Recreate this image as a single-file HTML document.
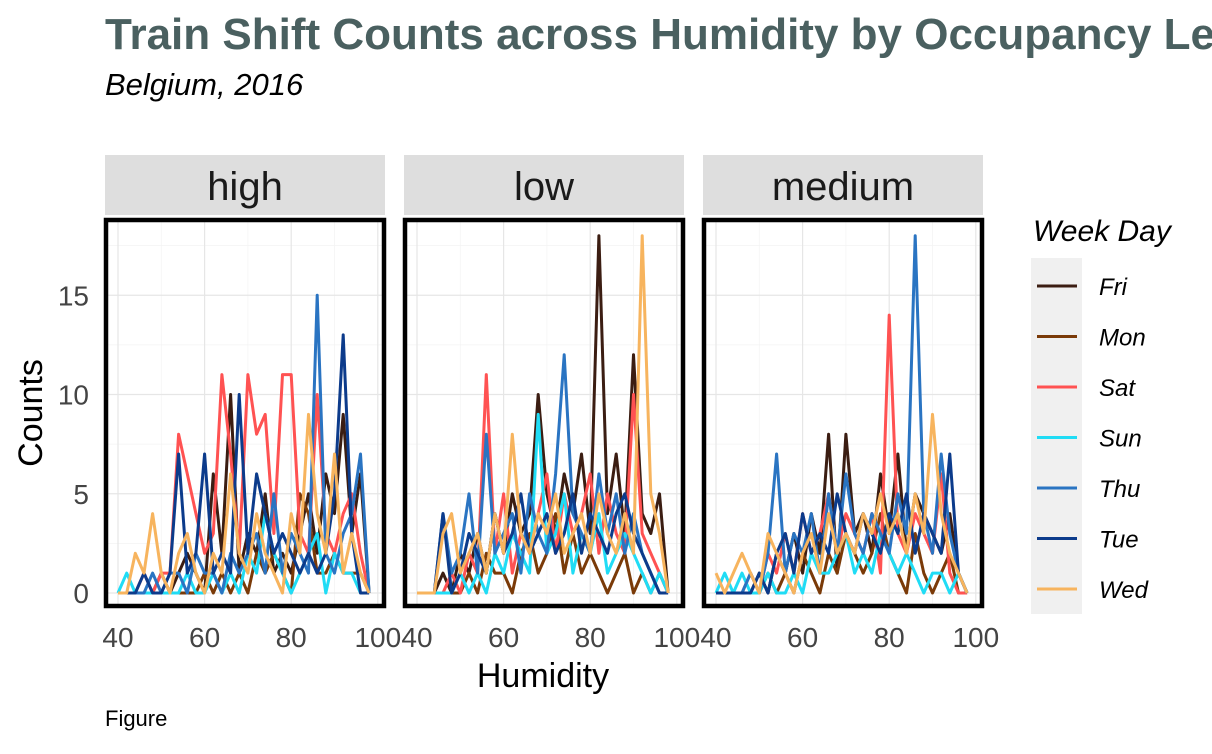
<!DOCTYPE html>
<html><head><meta charset="utf-8"><style>
body{margin:0;background:#fff;overflow:hidden;}
svg text{font-family:"Liberation Sans",Arial,sans-serif;}
</style></head><body>
<svg id="chart" width="1212" height="749" xmlns="http://www.w3.org/2000/svg">
<text x="105" y="49" font-size="44" font-weight="bold" fill="#4a6060">Train Shift Counts across Humidity by Occupancy Level</text>
<text x="105" y="95" font-size="31" font-style="italic" fill="#000">Belgium, 2016</text>
<text x="543" y="687" font-size="34" text-anchor="middle" fill="#000">Humidity</text>
<text transform="translate(42,413) rotate(-90)" font-size="34" text-anchor="middle" fill="#000">Counts</text>
<text x="105" y="726" font-size="22" fill="#000">Figure</text>
<g id="panels"></g>
<g id="legend"></g>
</svg>
<script>
const humidity=[40,42,44,46,48,50,52,54,56,58,60,62,64,66,68,70,72,74,76,78,80,82,84,86,88,90,92,94,96,98];
const panels=["high","low","medium"];
const days=["Fri","Mon","Sat","Sun","Thu","Tue","Wed"];
const yTicks=[0,5,10,15];
const xTicks=[40,60,80,100];
const highFri=[0,0,0,0,0,1,0,1,2,1,0,6,2,10,1,3,2,5,1,2,1,3,5,2,6,4,9,3,6,0];
const highMon=[0,0,0,0,0,0,0,0,0,0,1,0,1,0,1,0,2,1,2,1,0,5,4,1,1,2,1,1,1,0];
const highSat=[0,0,0,1,0,1,1,8,6,4,2,3,11,7,2,11,8,9,3,11,11,3,2,10,3,2,4,5,2,0];
const highSun=[0,1,0,0,0,0,0,0,1,0,0,1,0,1,0,2,1,4,2,1,0,1,2,3,0,2,1,1,0,0];
const highThu=[0,0,0,0,1,0,1,1,0,2,1,1,0,2,1,2,3,1,5,1,3,2,1,15,2,1,3,4,7,0];
const highTue=[0,0,0,1,0,0,1,7,1,2,7,1,2,1,10,2,6,4,2,3,2,1,2,1,2,5,13,3,0,0];
const highWed=[0,0,2,1,4,1,0,2,3,1,0,2,1,6,2,1,4,2,1,0,4,2,9,4,2,7,1,3,1,0];
const lowFri=[0,0,0,1,0,2,1,3,1,4,2,5,3,4,10,5,3,6,4,7,3,18,4,7,3,12,4,3,5,0];
const lowMon=[0,0,0,0,0,0,1,0,2,1,1,0,2,3,1,2,4,1,3,1,2,1,0,1,2,0,1,0,1,0];
const lowSat=[0,0,0,0,1,0,2,1,11,2,5,1,3,2,4,6,2,5,3,4,6,2,5,3,2,10,3,2,1,0];
const lowSun=[0,0,0,0,0,1,0,1,0,2,1,3,2,1,9,2,3,5,1,3,2,4,1,2,3,2,1,0,1,0];
const lowThu=[0,0,0,4,1,2,5,1,8,2,3,4,1,5,3,2,6,12,4,3,2,6,3,5,2,4,2,1,0,0];
const lowTue=[0,0,0,4,0,1,3,2,1,4,2,3,5,2,3,4,2,3,5,2,4,3,2,4,5,3,2,1,0,0];
const lowWed=[0,0,0,3,4,1,2,3,1,4,2,8,3,2,4,3,5,2,3,4,2,5,3,2,4,2,18,5,3,0];
const medFri=[0,0,0,0,0,1,0,2,1,3,1,4,2,8,1,8,3,4,2,6,3,7,2,5,4,3,2,4,1,0];
const medMon=[0,0,0,0,0,0,1,0,1,0,2,1,0,2,1,3,2,1,2,4,2,1,0,3,1,0,1,2,0,0];
const medSat=[0,0,0,0,1,0,2,1,3,1,4,2,3,5,2,4,3,2,4,1,14,3,2,4,3,2,6,1,0,0];
const medSun=[0,1,0,1,0,0,1,0,0,1,0,2,1,1,2,3,1,2,1,3,2,1,2,1,0,1,1,0,1,0];
const medThu=[0,0,0,0,1,0,2,7,1,3,2,4,1,5,2,6,3,2,4,3,2,5,3,18,4,2,7,3,1,0];
const medTue=[0,0,0,0,0,1,0,2,3,1,4,2,3,2,5,3,2,4,3,2,4,3,5,2,4,3,2,7,1,0];
const medWed=[1,0,1,2,1,0,3,2,1,0,2,3,1,4,2,3,2,4,3,5,3,4,2,5,3,9,4,2,1,0];
const series={high:[highFri,highMon,highSat,highSun,highThu,highTue,highWed],
low:[lowFri,lowMon,lowSat,lowSun,lowThu,lowTue,lowWed],
medium:[medFri,medMon,medSat,medSun,medThu,medTue,medWed]};
const colors=["#3b1d12","#7a3a08","#ff5252","#20dcf5","#2a74c2","#0c3b8b","#f7b45e"];
const NS="http://www.w3.org/2000/svg";
function mk(tag,attrs,parent){const e=document.createElementNS(NS,tag);for(const k in attrs)e.setAttribute(k,attrs[k]);parent.appendChild(e);return e;}
const yScale=v=>593-v*19.85;
const P=document.getElementById("panels");
panels.forEach((p,pi)=>{
  const off=pi*299;
  const xScale=v=>118+off+(v-40)*4.33;
  const g=mk("g",{},P);
  
  
  const strip=mk("rect",{x:105+off,y:155,width:280,height:60,fill:"#dedede"},g);
  
  
  const st=mk("text",{x:245+off,y:200,"font-size":40,"text-anchor":"middle",fill:"#1a1a1a"},g);
  st.textContent=p;
  
  
  [2.5,7.5,12.5,17.5].forEach(v=>{const l=mk("line",{x1:108+off,x2:382+off,y1:yScale(v),y2:yScale(v),stroke:"#f3f3f3","stroke-width":0.7},g);
    });
  [50,70,90].forEach(v=>{const l=mk("line",{x1:xScale(v),x2:xScale(v),y1:220,y2:606,stroke:"#f3f3f3","stroke-width":0.7},g);
    });
  yTicks.forEach(v=>{const l=mk("line",{x1:108+off,x2:382+off,y1:yScale(v),y2:yScale(v),stroke:"#e6e6e6","stroke-width":1.2},g);
    });
  xTicks.forEach(v=>{const l=mk("line",{x1:xScale(v),x2:xScale(v),y1:220,y2:606,stroke:"#e6e6e6","stroke-width":1.2},g);
    
    const t=mk("text",{x:xScale(v),y:647,"font-size":28,"text-anchor":"middle",fill:"#444"},g);
    t.textContent=v;});
  series[p].forEach((arr,si)=>{
    const d=arr.map((v,i)=>(i?"L":"M")+xScale(humidity[i]).toFixed(1)+","+yScale(v).toFixed(1)).join("");
    const path=mk("path",{d:d,fill:"none",stroke:colors[si],"stroke-width":3,"stroke-linejoin":"round"},g);
    
    
  });
  const b=mk("rect",{x:106+off,y:220,width:278,height:386,fill:"none",stroke:"#000","stroke-width":4.5},g);
  
});
yTicks.forEach(v=>{const t=mk("text",{x:89,y:yScale(v)+10,"font-size":28,"text-anchor":"end",fill:"#444"},P);
  t.textContent=v;});
const L=document.getElementById("legend");
const lt=mk("text",{x:1033,y:241,"font-size":30,"font-style":"italic",fill:"#000"},L);
lt.textContent="Week Day";
const lb=mk("rect",{x:1031,y:258,width:51,height:356,fill:"#f0f0f0"},L);

days.forEach((d,i)=>{
  const y=286+i*50.5;
  const gg=mk("g",{},L);
  
  
  mk("line",{x1:1037,x2:1077,y1:y,y2:y,stroke:colors[i],"stroke-width":3},gg);
  const t=mk("text",{x:1099,y:y+9,"font-size":24,"font-style":"italic",fill:"#000"},gg);
  t.textContent=d;
});
</script>
</body></html>
